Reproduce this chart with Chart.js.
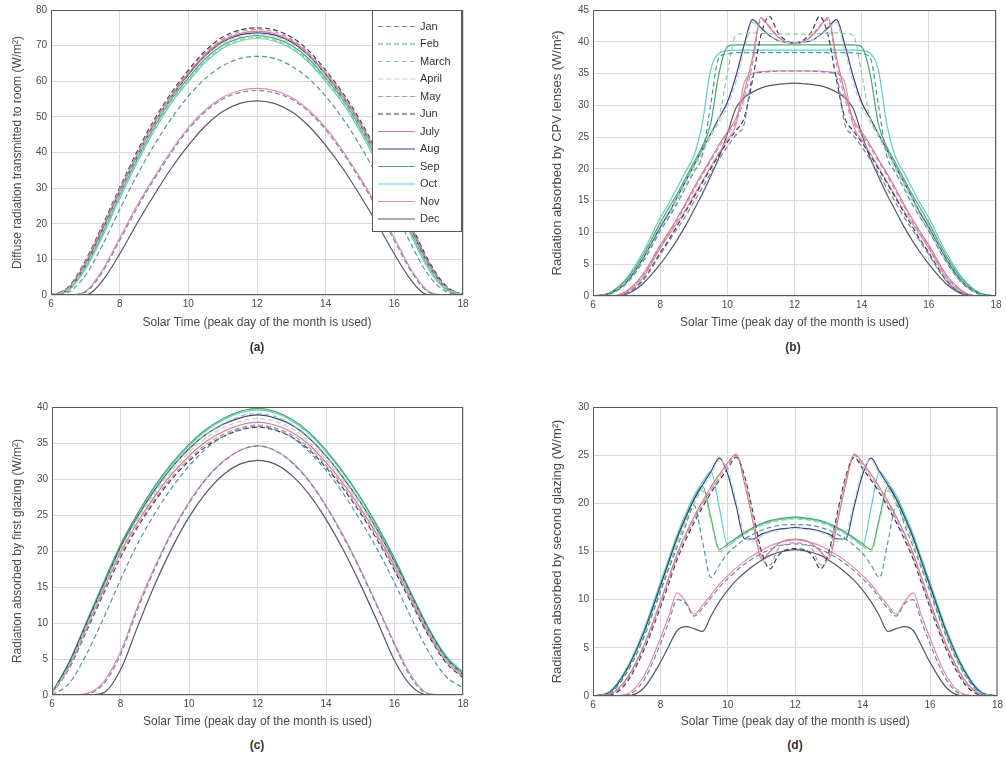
<!DOCTYPE html>
<html>
<head>
<meta charset="utf-8">
<script src="https://cdn.jsdelivr.net/npm/chart.js@4.4.0/dist/chart.umd.min.js"></script>
<style>
  body { margin: 0; background: #fff; width: 1006px; height: 758px; position: relative; overflow: hidden;
         font-family: "Liberation Sans", Arial, sans-serif; }
  canvas { position: absolute; }
  .tag { position: absolute; width: 40px; margin-left: -20px; text-align: center;
         font-size: 12px; font-weight: bold; color: #333; }
</style>
</head>
<body>
<canvas id="chartA" width="480" height="345" style="left:0;top:0"></canvas>
<canvas id="chartB" width="466" height="345" style="left:540px;top:0"></canvas>
<canvas id="chartC" width="480" height="350" style="left:0;top:385px"></canvas>
<canvas id="chartD" width="466" height="350" style="left:540px;top:385px"></canvas>
<div class="tag" style="left:257px;top:340px">(a)</div>
<div class="tag" style="left:793px;top:340px">(b)</div>
<div class="tag" style="left:257px;top:738px">(c)</div>
<div class="tag" style="left:795px;top:738px">(d)</div>
<script>
const months = ['Jan', 'Feb', 'March', 'April', 'May', 'Jun', 'July', 'Aug', 'Sep', 'Oct', 'Nov', 'Dec'];
const xTitle = 'Solar Time (peak day of the month is used)';

// half hour steps for (a) and (c)
const hoursHalf = [6, 6.5, 7, 7.5, 8, 8.5, 9, 9.5, 10, 10.5, 11, 11.5, 12,
                   12.5, 13, 13.5, 14, 14.5, 15, 15.5, 16, 16.5, 17, 17.5, 18];
// finer steps around noon for (b) and (d)
const hoursFine = [6, 6.5, 7, 7.5, 8, 8.25, 8.5, 8.75, 9, 9.25, 9.5, 9.75, 10, 10.25, 10.5, 10.75,
                   11, 11.25, 11.5, 11.75, 12, 12.25, 12.5, 12.75, 13, 13.25, 13.5, 13.75, 14, 14.25,
                   14.5, 14.75, 15, 15.25, 15.5, 15.75, 16, 16.5, 17, 17.5, 18];

// (a) diffuse radiation transmitted to room, one row per month
const diffuseRoom = [
  [0, 0, 0.8, 6.5, 15.3, 24.3, 32.4, 39.9, 46.4, 51.5, 55, 56.8, 57.4, 56.8, 55, 51.5, 46.4, 39.9, 32.4, 24.3, 15.3, 6.5, 0.8, 0, 0],
  [0, 0.8, 5.5, 14, 24, 33.5, 42, 49.5, 55.8, 60.8, 64.3, 66.4, 67, 66.4, 64.3, 60.8, 55.8, 49.5, 42, 33.5, 24, 14, 5.5, 1, 0],
  [0, 1.3, 7.5, 16.8, 27.5, 37.5, 46.5, 54.2, 60.3, 65.8, 69.5, 71.6, 72.3, 71.6, 69.5, 65.8, 60.3, 54.2, 46.5, 37.5, 27.5, 16.8, 7.5, 1.6, 0],
  [0, 1.6, 8.2, 17.8, 28.5, 38.6, 47.6, 55.3, 61.5, 67, 70.6, 72.6, 73.2, 72.6, 70.6, 67, 61.5, 55.3, 47.6, 38.6, 28.5, 17.8, 8.2, 2, 0],
  [0, 2, 9.3, 19.2, 29.7, 39.6, 48.6, 56.2, 62.6, 68, 71.8, 73.9, 74.5, 73.9, 71.8, 68, 62.6, 56.2, 48.6, 39.6, 29.7, 19.2, 9.3, 2.4, 0],
  [0, 2.2, 9.6, 19.6, 30.1, 40.1, 49.1, 56.7, 63.1, 68.6, 72.4, 74.4, 75, 74.4, 72.4, 68.6, 63.1, 56.7, 49.1, 40.1, 30.1, 19.6, 9.6, 2.6, 0],
  [0, 1.9, 9, 18.9, 29.4, 39.3, 48.3, 55.9, 62.2, 67.6, 71.4, 73.4, 74, 73.4, 71.4, 67.6, 62.2, 55.9, 48.3, 39.3, 29.4, 18.9, 9, 2.3, 0],
  [0, 1.7, 8.6, 18.3, 29, 38.9, 47.9, 55.5, 61.8, 67.3, 71, 73, 73.6, 73, 71, 67.3, 61.8, 55.5, 47.9, 38.9, 29, 18.3, 8.6, 2.1, 0],
  [0, 1.5, 7.9, 17.3, 28, 38, 47, 54.8, 60.9, 66.4, 70.1, 72.1, 72.8, 72.1, 70.1, 66.4, 60.9, 54.8, 47, 38, 28, 17.3, 7.9, 1.8, 0],
  [0, 1.2, 7.2, 16.4, 27, 37, 46, 53.8, 59.9, 65.4, 69.2, 71.3, 72, 71.3, 69.2, 65.4, 59.9, 53.8, 46, 37, 27, 16.4, 7.2, 1.5, 0],
  [0, 0, 1, 7, 16, 25, 33, 40.5, 47, 52, 55.5, 57.4, 58, 57.4, 55.5, 52, 47, 40.5, 33, 25, 16, 7, 1, 0, 0],
  [0, 0, 0, 4, 11.5, 20, 28, 35.5, 42, 47.5, 51.5, 53.8, 54.5, 53.8, 51.5, 47.5, 42, 35.5, 28, 20, 11.5, 4, 0, 0, 0]
];

// (b) radiation absorbed by CPV lenses
const cpvLenses = [
  [0, 0, 0.4, 2.5, 6.5, 8.5, 10.5, 12.5, 14.8, 17, 19.3, 21.5, 23.5, 25.3, 27, 34.5, 35.2, 35.3, 35.4, 35.4,
   35.4,
   35.4, 35.4, 35.3, 35.2, 34.5, 27, 25.3, 23.5, 21.5, 19.3, 17, 14.8, 12.5, 10.5, 8.5, 6.5, 2.5, 0.4, 0, 0],
  [0, 0.3, 2, 5.5, 10.2, 12.3, 14.5, 17, 19.5, 22, 30, 37.5, 38.1, 38.3, 38.3, 38.3, 38.3, 38.3, 38.3, 38.3,
   38.3,
   38.3, 38.3, 38.3, 38.3, 38.3, 38.3, 38.3, 38.1, 37.5, 30, 22, 19.5, 17, 14.5, 12.3, 10.2, 5.5, 2, 0.3, 0],
  [0, 0.4, 2.4, 6.2, 11, 13.2, 15.5, 18, 20.5, 23, 25.5, 28, 35, 41, 41.3, 41.4, 41.3, 41.3, 41.2, 41.2,
   41.2,
   41.2, 41.2, 41.3, 41.3, 41.4, 41.3, 41, 35, 28, 25.5, 23, 20.5, 18, 15.5, 13.2, 11, 6.2, 2.4, 0.4, 0],
  [0, 0.3, 2, 5.6, 10.3, 12.5, 15, 17.5, 20, 22.5, 25, 27.3, 29.8, 33.5, 38.5, 43, 42, 40.9, 40.2, 39.9,
   39.8,
   39.9, 40.2, 40.9, 42, 43, 38.5, 33.5, 29.8, 27.3, 25, 22.5, 20, 17.5, 15, 12.5, 10.3, 5.6, 2, 0.3, 0],
  [0, 0, 0.7, 3.3, 7.7, 9.7, 11.9, 14.2, 16.6, 19, 21.2, 23.4, 25.4, 27.3, 31, 36.5, 43.5, 42.5, 40.9, 40,
   39.8,
   40, 40.9, 42.5, 43.5, 36.5, 31, 27.3, 25.4, 23.4, 21.2, 19, 16.6, 14.2, 11.9, 9.7, 7.7, 3.3, 0.7, 0, 0],
  [0, 0, 0.4, 2.6, 6.8, 8.8, 11, 13.2, 15.5, 17.8, 20, 22.2, 24.2, 26, 28, 34, 41, 44, 41.5, 40.2,
   39.8,
   40.2, 41.5, 44, 41, 34, 28, 26, 24.2, 22.2, 20, 17.8, 15.5, 13.2, 11, 8.8, 6.8, 2.6, 0.4, 0, 0],
  [0, 0, 0.8, 3.5, 8, 10, 12.2, 14.5, 17, 19.3, 21.5, 23.8, 25.8, 27.8, 32, 37.5, 43.8, 42.3, 40.8, 40,
   39.8,
   40, 40.8, 42.3, 43.8, 37.5, 32, 27.8, 25.8, 23.8, 21.5, 19.3, 17, 14.5, 12.2, 10, 8, 3.5, 0.8, 0, 0],
  [0, 0.4, 2.2, 6, 10.8, 13, 15.5, 18, 20.5, 23, 25.5, 28, 30.5, 34.5, 39.5, 43.5, 42.2, 41, 40.2, 39.9,
   39.8,
   39.9, 40.2, 41, 42.2, 43.5, 39.5, 34.5, 30.5, 28, 25.5, 23, 20.5, 18, 15.5, 13, 10.8, 6, 2.2, 0.4, 0],
  [0, 0.5, 2.6, 6.5, 11.5, 13.8, 16, 18.5, 21, 23.5, 27, 35, 39.2, 39.5, 39.5, 39.5, 39.5, 39.5, 39.5, 39.5,
   39.5,
   39.5, 39.5, 39.5, 39.5, 39.5, 39.5, 39.5, 39.2, 35, 27, 23.5, 21, 18.5, 16, 13.8, 11.5, 6.5, 2.6, 0.5, 0],
  [0, 0.5, 2.8, 7, 12.3, 14.5, 17, 19.5, 22, 27, 35.5, 38.2, 38.6, 38.7, 38.7, 38.7, 38.7, 38.7, 38.7, 38.7,
   38.7,
   38.7, 38.7, 38.7, 38.7, 38.7, 38.7, 38.7, 38.6, 38.2, 35.5, 27, 22, 19.5, 17, 14.5, 12.3, 7, 2.8, 0.5, 0],
  [0, 0, 0.6, 3, 7.5, 9.5, 11.5, 13.5, 15.8, 18, 20.3, 22.5, 24.6, 26.8, 33.5, 35, 35.3, 35.4, 35.4, 35.4,
   35.4,
   35.4, 35.4, 35.4, 35.3, 35, 33.5, 26.8, 24.6, 22.5, 20.3, 18, 15.8, 13.5, 11.5, 9.5, 7.5, 3, 0.6, 0, 0],
  [0, 0, 0.3, 2, 5, 6.8, 8.8, 11, 13.5, 16, 18.8, 21.8, 25.5, 29.5, 31.2, 32.1, 32.7, 33.1, 33.3, 33.4,
   33.5,
   33.4, 33.3, 33.1, 32.7, 32.1, 31.2, 29.5, 25.5, 21.8, 18.8, 16, 13.5, 11, 8.8, 6.8, 5, 2, 0.3, 0, 0]
];

// (c) radiation absorbed by first glazing
const firstGlazing = [
  [0, 0, 0.1, 1.5, 5.6, 11.9, 17.5, 22.5, 26.6, 30, 32.4, 34, 34.6, 34, 32.3, 29.7, 26.2, 22, 17.3, 12.2, 7, 2.3, 0.1, 0, 0],
  [0, 1.6, 5.6, 10.6, 16, 21, 25.2, 28.8, 31.8, 34.2, 35.9, 36.9, 37.3, 36.9, 35.8, 33.8, 31.2, 28, 24.3, 20.2, 15.6, 10.6, 6, 2.6, 1],
  [0.2, 4.2, 9.6, 15, 20.3, 24.6, 28.3, 31.5, 34.1, 36.2, 37.7, 38.7, 39.1, 38.7, 37.6, 35.8, 33.3, 30.3, 26.8, 22.8, 18.4, 13.6, 8.9, 5.1, 2.8],
  [0.2, 4.1, 9.5, 14.9, 20.1, 24.4, 28, 31.1, 33.7, 35.7, 37.1, 38, 38.4, 38, 37, 35.2, 32.7, 29.8, 26.4, 22.5, 18.2, 13.5, 8.8, 5, 2.7],
  [0.2, 3.8, 9, 14.3, 19.4, 23.6, 27.2, 30.3, 32.8, 34.8, 36.2, 37.1, 37.5, 37.1, 36.1, 34.4, 31.9, 29, 25.6, 21.8, 17.6, 13, 8.4, 4.7, 2.5],
  [0.2, 3.7, 8.8, 14, 19.1, 23.3, 26.9, 30, 32.5, 34.5, 35.9, 36.8, 37.2, 36.8, 35.8, 34.1, 31.6, 28.7, 25.3, 21.5, 17.3, 12.7, 8.2, 4.5, 2.4],
  [0.2, 4, 9.3, 14.6, 19.8, 24, 27.6, 30.7, 33.2, 35.2, 36.6, 37.5, 37.9, 37.5, 36.5, 34.8, 32.3, 29.4, 26, 22.2, 17.9, 13.2, 8.6, 4.9, 2.6],
  [0.3, 4.4, 9.8, 15.2, 20.5, 24.8, 28.5, 31.6, 34.2, 36.2, 37.6, 38.5, 38.9, 38.5, 37.5, 35.7, 33.2, 30.2, 26.8, 22.9, 18.5, 13.7, 9, 5.2, 2.8],
  [0.3, 4.5, 10, 15.5, 20.8, 25.2, 29, 32.2, 34.8, 36.9, 38.4, 39.4, 39.8, 39.4, 38.3, 36.5, 34, 31, 27.5, 23.5, 19, 14, 9.2, 5.3, 3],
  [0.3, 4.6, 10.1, 15.6, 20.9, 25.2, 28.9, 32, 34.6, 36.7, 38.2, 39.2, 39.6, 39.2, 38.1, 36.3, 33.8, 30.8, 27.3, 23.3, 18.9, 14, 9.3, 5.5, 3.2],
  [0, 0, 0.2, 1.8, 6, 12.3, 17.8, 22.7, 26.8, 30.1, 32.5, 34, 34.6, 34, 32.4, 29.8, 26.3, 22.2, 17.5, 12.4, 7.2, 2.6, 0.2, 0, 0],
  [0, 0, 0, 0.3, 3.5, 9.5, 15.3, 20.4, 24.7, 28.1, 30.6, 32.1, 32.6, 32.1, 30.5, 27.9, 24.4, 20.2, 15.4, 10.2, 4.8, 1.2, 0, 0, 0]
];

// (d) radiation absorbed by second glazing
const secondGlazing = [
  [0, 0, 0.1, 1.6, 5.4, 7.7, 10, 9.6, 8.3, 9.1, 10.2, 11.3, 12.2, 13, 13.7, 14.3, 14.8, 15.2, 15.6, 15.7,
   15.8,
   15.7, 15.6, 15.2, 14.8, 14.3, 13.7, 13, 12.2, 11.3, 10.2, 9.1, 8.3, 9.6, 10, 7.7, 5.4, 1.6, 0.1, 0, 0],
  [0, 0.3, 2.4, 6, 10.8, 13.2, 15.5, 17.7, 19.8, 16, 12.3, 13.6, 14.8, 15.6, 16.3, 16.8, 17.2, 17.5, 17.7, 17.8,
   17.8,
   17.8, 17.7, 17.5, 17.2, 16.8, 16.3, 15.6, 14.8, 13.6, 12.3, 16, 19.8, 17.7, 15.5, 13.2, 10.8, 6, 2.4, 0.3, 0],
  [0, 0.3, 2.5, 6.2, 11, 13.5, 16, 18.2, 20, 21.3, 18.2, 15, 15.6, 16.2, 16.8, 17.3, 17.7, 18, 18.2, 18.3,
   18.4,
   18.3, 18.2, 18, 17.7, 17.3, 16.8, 16.2, 15.6, 15, 18.2, 21.3, 20, 18.2, 16, 13.5, 11, 6.2, 2.5, 0.3, 0],
  [0, 0.3, 2.5, 6.2, 11, 13.5, 16, 18.1, 20, 21.6, 23, 24.5, 23.4, 20.2, 16.8, 16, 16.6, 17, 17.2, 17.3,
   17.4,
   17.3, 17.2, 17, 16.6, 16, 16.8, 20.2, 23.4, 24.5, 23, 21.6, 20, 18.1, 16, 13.5, 11, 6.2, 2.5, 0.3, 0],
  [0, 0.2, 1.6, 5, 9.5, 12, 14.5, 16.5, 18.3, 19.9, 21.4, 22.7, 23.9, 25, 22.5, 18.5, 14.5, 13.6, 15.3, 15.8,
   15.9,
   15.8, 15.3, 13.6, 14.5, 18.5, 22.5, 25, 23.9, 22.7, 21.4, 19.9, 18.3, 16.5, 14.5, 12, 9.5, 5, 1.6, 0.2, 0],
  [0, 0.1, 1.4, 4.7, 9.2, 11.7, 14.2, 16.2, 18, 19.6, 21.1, 22.4, 23.6, 24.8, 22.8, 19, 15, 13.2, 14.6, 15.2,
   15.3,
   15.2, 14.6, 13.2, 15, 19, 22.8, 24.8, 23.6, 22.4, 21.1, 19.6, 18, 16.2, 14.2, 11.7, 9.2, 4.7, 1.4, 0.1, 0],
  [0, 0.2, 1.8, 5.2, 9.8, 12.3, 14.8, 16.8, 18.6, 20.2, 21.7, 23, 24.2, 25.1, 22, 18, 14.2, 15, 15.8, 16.2,
   16.3,
   16.2, 15.8, 15, 14.2, 18, 22, 25.1, 24.2, 23, 21.7, 20.2, 18.6, 16.8, 14.8, 12.3, 9.8, 5.2, 1.8, 0.2, 0],
  [0, 0.4, 2.7, 6.5, 11.4, 13.9, 16.4, 18.5, 20.4, 21.9, 23.3, 24.7, 23, 19.7, 16.3, 16.3, 16.8, 17.1, 17.3, 17.4,
   17.5,
   17.4, 17.3, 17.1, 16.8, 16.3, 16.3, 19.7, 23, 24.7, 23.3, 21.9, 20.4, 18.5, 16.4, 13.9, 11.4, 6.5, 2.7, 0.4, 0],
  [0, 0.4, 2.7, 6.5, 11.5, 14, 16.5, 18.6, 20.5, 21.8, 18.5, 15.2, 15.8, 16.4, 17, 17.5, 17.9, 18.2, 18.4, 18.5,
   18.6,
   18.5, 18.4, 18.2, 17.9, 17.5, 17, 16.4, 15.8, 15.2, 18.5, 21.8, 20.5, 18.6, 16.5, 14, 11.5, 6.5, 2.7, 0.4, 0],
  [0, 0.5, 2.9, 6.8, 11.8, 14.3, 16.8, 18.9, 20.8, 22.2, 23.3, 19.5, 15.6, 16.3, 16.9, 17.4, 17.8, 18.1, 18.3, 18.4,
   18.5,
   18.4, 18.3, 18.1, 17.8, 17.4, 16.9, 16.3, 15.6, 19.5, 23.3, 22.2, 20.8, 18.9, 16.8, 14.3, 11.8, 6.8, 2.9, 0.5, 0],
  [0, 0, 0.2, 2, 6, 8.3, 10.7, 9.8, 8.5, 9.4, 10.5, 11.6, 12.5, 13.3, 14, 14.6, 15.1, 15.6, 15.9, 16.1,
   16.2,
   16.1, 15.9, 15.6, 15.1, 14.6, 14, 13.3, 12.5, 11.6, 10.5, 9.4, 8.5, 9.8, 10.7, 8.3, 6, 2, 0.2, 0, 0],
  [0, 0, 0, 0.8, 3.5, 5.2, 6.8, 7.2, 7, 6.7, 8.3, 9.8, 11, 12, 12.8, 13.5, 14.1, 14.6, 14.9, 15.1,
   15.2,
   15.1, 14.9, 14.6, 14.1, 13.5, 12.8, 12, 11, 9.8, 8.3, 6.7, 7, 7.2, 6.8, 5.2, 3.5, 0.8, 0, 0, 0]
];

const lineColors = ['#7486a6', '#4f97a3', '#93c99c', '#b3d3c4', '#c889ad', '#3d3d5e',
                    '#d57b8c', '#3c3f8a', '#47a96a', '#5fcfc6', '#e28db0', '#56566a'];
const dashedMonths = [true, true, true, true, true, true, false, false, false, false, false, false];

Chart.defaults.font.family = '"Liberation Sans", Arial, sans-serif';
Chart.defaults.color = '#4a4a4a';

// box round the plot area, like the matlab axes
const boxFrame = {
  id: 'boxFrame',
  afterDatasetsDraw(chart) {
    const { ctx, chartArea: a } = chart;
    ctx.save();
    ctx.strokeStyle = '#5a5a5a';
    ctx.lineWidth = 1;
    ctx.strokeRect(a.left + 0.5, a.top + 0.5, a.right - a.left - 1, a.bottom - a.top - 1);
    ctx.restore();
  }
};

// legend drawn inside the plot, top right corner
const boxLegend = {
  id: 'boxLegend',
  afterDraw(chart) {
    const { ctx, chartArea: a } = chart;
    const left = a.right - 91, top = a.top, w = 89, h = 221;
    ctx.save();
    ctx.fillStyle = '#fff';
    ctx.fillRect(left, top, w, h);
    ctx.strokeStyle = '#5a5a5a';
    ctx.lineWidth = 1;
    ctx.strokeRect(left + 0.5, top + 0.5, w, h);
    ctx.font = '11px "Liberation Sans", Arial, sans-serif';
    ctx.textBaseline = 'middle';
    chart.data.datasets.forEach((ds, i) => {
      const y = top + 16.5 + i * 17.5;
      ctx.strokeStyle = ds.borderColor;
      ctx.lineWidth = 1.2;
      ctx.setLineDash(ds.borderDash);
      ctx.beginPath();
      ctx.moveTo(left + 6, y);
      ctx.lineTo(left + 43, y);
      ctx.stroke();
      ctx.setLineDash([]);
      ctx.fillStyle = '#333';
      ctx.fillText(ds.label, left + 48, y);
    });
    ctx.restore();
  }
};

function buildChart(id, hours, rows, o) {
  return new Chart(document.getElementById(id), {
    type: 'line',
    data: {
      datasets: months.map((m, i) => ({
        label: m,
        data: hours.map((h, k) => ({ x: h, y: rows[i][k] })),
        borderColor: lineColors[i],
        borderWidth: 1.2,
        borderDash: dashedMonths[i] ? [5, 3] : [],
        pointRadius: 0,
        cubicInterpolationMode: 'monotone',
        fill: false
      }))
    },
    options: {
      responsive: false,
      animation: false,
      events: [],
      layout: { padding: o.padding },
      plugins: { legend: { display: false }, tooltip: { enabled: false } },
      scales: {
        x: {
          type: 'linear', min: 6, max: 18,
          ticks: { stepSize: 2, font: { size: 10 }, padding: 3 },
          grid: { color: '#dadada', drawTicks: false },
          border: { display: false },
          title: { display: true, text: xTitle, font: { size: 12 },
                   padding: { top: 0, bottom: o.titlePad } },
          afterFit: s => { s.height = o.xHeight; }
        },
        y: {
          min: 0, max: o.yMax,
          ticks: { stepSize: o.yStep, font: { size: 10 }, padding: 4 },
          grid: { color: '#dadada', drawTicks: false },
          border: { display: false },
          title: { display: true, text: o.yTitle, font: { size: o.yTitleSize } },
          afterFit: s => { s.width = o.yWidth; }
        }
      }
    },
    plugins: o.legend ? [boxFrame, boxLegend] : [boxFrame]
  });
}

buildChart('chartA', hoursHalf, diffuseRoom, {
  yMax: 80, yStep: 10, yTitle: 'Diffuse radiation transmitted to room (W/m²)', yTitleSize: 12,
  yWidth: 45, xHeight: 50, titlePad: 15, padding: { left: 6, top: 6, right: 17, bottom: 0 }, legend: true
});
buildChart('chartB', hoursFine, cpvLenses, {
  yMax: 45, yStep: 5, yTitle: 'Radiation absorbed by CPV lenses (W/m²)', yTitleSize: 13,
  yWidth: 47, xHeight: 49, titlePad: 15, padding: { left: 6, top: 6, right: 10, bottom: 0 }
});
buildChart('chartC', hoursHalf, firstGlazing, {
  yMax: 40, yStep: 5, yTitle: 'Radiation absorbed by first glazing (W/m²)', yTitleSize: 12,
  yWidth: 46, xHeight: 40, titlePad: 6, padding: { left: 6, top: 22, right: 17, bottom: 0 }
});
buildChart('chartD', hoursFine, secondGlazing, {
  yMax: 30, yStep: 5, yTitle: 'Radiation absorbed by second glazing (W/m²)', yTitleSize: 13,
  yWidth: 47, xHeight: 39, titlePad: 6, padding: { left: 6, top: 22, right: 8, bottom: 0 }
});
</script>
</body>
</html>
